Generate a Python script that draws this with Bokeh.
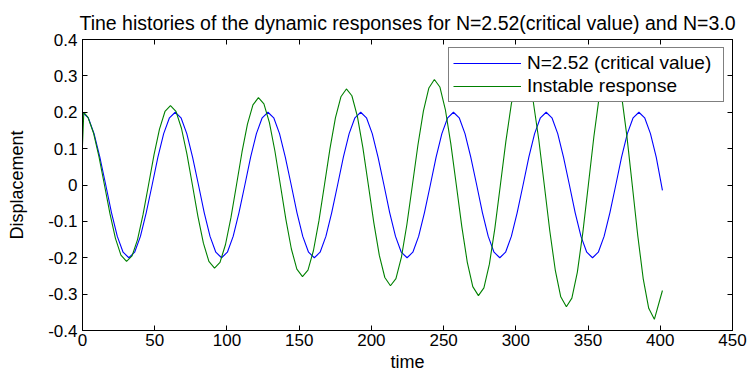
from bokeh.plotting import figure
from bokeh.models import LinearAxis, FixedTicker, Legend, LegendItem, Range1d
from bokeh.embed import file_html
from bokeh.resources import INLINE

# ---- data ----
blue_t = [0, 4.0, 8.0, 12.0, 16.1, 20.1, 24.1, 28.1, 32.1, 36.1, 40.1, 44.1, 48.2, 52.2, 56.2, 60.2,
          64.2, 68.2, 72.2, 76.2, 80.3, 84.3, 88.3, 92.3, 96.3, 100.3, 104.3, 108.3, 112.4, 116.4, 120.4, 124.4,
          128.4, 132.4, 136.4, 140.4, 144.5, 148.5, 152.5, 156.5, 160.5, 164.5, 168.5, 172.5, 176.6, 180.6, 184.6, 188.6,
          192.6, 196.6, 200.6, 204.6, 208.7, 212.7, 216.7, 220.7, 224.7, 228.7, 232.7, 236.7, 240.8, 244.8, 248.8, 252.8,
          256.8, 260.8, 264.8, 268.8, 272.9, 276.9, 280.9, 284.9, 288.9, 292.9, 296.9, 300.9, 305.0, 309.0, 313.0, 317.0,
          321.0, 325.0, 329.0, 333.0, 337.1, 341.1, 345.1, 349.1, 353.1, 357.1, 361.1, 365.1, 369.2, 373.2, 377.2, 381.2,
          385.2, 389.2, 393.2, 397.2, 401.5]
blue_y = [0.2, 0.1848, 0.1414, 0.0765, 0, -0.0765, -0.1414, -0.1848, -0.2, -0.1848, -0.1414, -0.0765, 0, 0.0765, 0.1414, 0.1848,
          0.2, 0.1848, 0.1414, 0.0765, 0, -0.0765, -0.1414, -0.1848, -0.2, -0.1848, -0.1414, -0.0765, 0, 0.0765, 0.1414, 0.1848,
          0.2, 0.1848, 0.1414, 0.0765, 0, -0.0765, -0.1414, -0.1848, -0.2, -0.1848, -0.1414, -0.0765, 0, 0.0765, 0.1414, 0.1848,
          0.2, 0.1848, 0.1414, 0.0765, 0, -0.0765, -0.1414, -0.1848, -0.2, -0.1848, -0.1414, -0.0765, 0, 0.0765, 0.1414, 0.1848,
          0.2, 0.1848, 0.1414, 0.0765, 0, -0.0765, -0.1414, -0.1848, -0.2, -0.1848, -0.1414, -0.0765, 0, 0.0765, 0.1414, 0.1848,
          0.2, 0.1848, 0.1414, 0.0765, 0, -0.0765, -0.1414, -0.1848, -0.2, -0.1848, -0.1414, -0.0765, 0, 0.0765, 0.1414, 0.1848,
          0.2, 0.1848, 0.1414, 0.0765, -0.015]

green_t = [0, 0.9, 3.8, 7.6, 11.4, 15.2, 19.0, 22.8, 26.6, 30.5, 34.3, 38.1, 41.9, 45.7, 49.5, 53.3, 57.1,
           60.9, 64.7, 68.5, 72.3, 76.1, 79.9, 83.7, 87.5, 91.4, 95.2, 99.0, 102.8, 106.6, 110.4, 114.2, 118.0,
           121.8, 125.6, 129.4, 133.2, 137.0, 140.8, 144.6, 148.4, 152.3, 156.1, 159.9, 163.7, 167.5, 171.3, 175.1, 178.9,
           182.7, 186.5, 190.3, 194.1, 197.9, 201.7, 205.5, 209.3, 213.2, 217.0, 220.8, 224.6, 228.4, 232.2, 236.0, 239.8,
           243.6, 247.4, 251.2, 255.0, 258.8, 262.6, 266.4, 270.2, 274.1, 277.9, 281.7, 285.5, 289.3, 293.1, 296.9, 300.7,
           304.5, 308.3, 312.1, 315.9, 319.7, 323.5, 327.3, 331.1, 335.0, 338.8, 342.6, 346.4, 350.2, 354.0, 357.8, 361.6,
           365.4, 369.2, 373.0, 376.8, 380.6, 384.4, 388.2, 392.0, 395.9, 401.5]
green_y = [0.11, 0.2, 0.1859, 0.1431, 0.0779, 0, -0.0789, -0.1466, -0.1926, -0.2098, -0.1950, -0.1501, -0.0817, 0, 0.0827, 0.1537, 0.2021,
           0.218, 0.2026, 0.1560, 0.0849, 0, -0.0860, -0.1598, -0.2100, -0.2286, -0.2125, -0.1636, -0.0891, 0, 0.0901, 0.1676, 0.2202,
           0.240, 0.2231, 0.1717, 0.0935, 0, -0.0946, -0.1759, -0.2312, -0.2517, -0.2339, -0.1801, -0.0981, 0, 0.0992, 0.1845, 0.2425,
           0.264, 0.2454, 0.1889, 0.1029, 0, -0.1041, -0.1935, -0.2543, -0.2769, -0.2573, -0.1981, -0.1079, 0, 0.1092, 0.2029, 0.2667,
           0.290, 0.2695, 0.2075, 0.1130, 0, -0.1143, -0.2125, -0.2793, -0.3042, -0.2827, -0.2176, -0.1185, 0, 0.1199, 0.2229, 0.2930,
           0.319, 0.2965, 0.2283, 0.1243, 0, -0.1258, -0.2338, -0.3073, -0.3346, -0.3110, -0.2394, -0.1304, 0, 0.1319, 0.2452, 0.3223,
           0.352, 0.3272, 0.2519, 0.1371, 0, -0.1388, -0.2580, -0.3391, -0.3692, -0.2900]

x_ticks = [0, 50, 100, 150, 200, 250, 300, 350, 400, 450]
y_ticks = [-0.4, -0.3, -0.2, -0.1, 0, 0.1, 0.2, 0.3, 0.4]
y_tick_labels = {-0.4: "-0.4", -0.3: "-0.3", -0.2: "-0.2", -0.1: "-0.1", 0: "0",
                 0.1: "0.1", 0.2: "0.2", 0.3: "0.3", 0.4: "0.4"}
labels = ["N=2.52 (critical value)", "Instable response"]
title = "Tine histories of the dynamic responses for N=2.52(critical value) and N=3.0"

FONT = "Liberation Sans"

p = figure(width=748, height=374, output_backend="svg", toolbar_location=None,
           x_range=Range1d(0, 450), y_range=Range1d(-0.4, 0.4),
           min_border_left=82, min_border_right=16, min_border_top=39, min_border_bottom=42,
           title=title, x_axis_label="time", y_axis_label="Displacement")
p.title.align = "center"
p.title.text_font = FONT
p.title.text_font_size = "19.5px"
p.title.text_font_style = "normal"
p.title.text_color = "black"
p.title.standoff = 12

p.xgrid.visible = False
p.ygrid.visible = False
p.outline_line_color = "black"
p.outline_line_alpha = 1
p.background_fill_color = "white"
p.border_fill_color = "white"

for ax in p.xaxis:
    ax.ticker = FixedTicker(ticks=x_ticks)
for ax in p.yaxis:
    ax.ticker = FixedTicker(ticks=y_ticks)
    ax.major_label_overrides = y_tick_labels

def style_axis(ax):
    ax.axis_line_color = "black"
    ax.major_tick_line_color = "black"
    ax.major_tick_in = 5
    ax.major_tick_out = 0
    ax.minor_tick_line_color = None
    ax.major_label_text_font = FONT
    ax.major_label_text_font_size = "17px"
    ax.major_label_text_color = "black"
    ax.axis_label_text_font = FONT
    ax.axis_label_text_font_size = "18px"
    ax.axis_label_text_font_style = "normal"
    ax.axis_label_text_color = "black"

for ax in p.xaxis:
    style_axis(ax)
    ax.major_label_standoff = 3
    ax.axis_label_standoff = 3
for ax in p.yaxis:
    style_axis(ax)
    ax.major_label_standoff = 5
    ax.axis_label_standoff = 18

top_ax = LinearAxis(ticker=FixedTicker(ticks=x_ticks))
right_ax = LinearAxis(ticker=FixedTicker(ticks=y_ticks))
for ax in (top_ax, right_ax):
    ax.axis_line_color = "black"
    ax.major_tick_line_color = "black"
    ax.major_tick_in = 5
    ax.major_tick_out = 0
    ax.minor_tick_line_color = None
    ax.major_label_text_font_size = "1px"
    ax.major_label_text_color = None
    ax.major_label_standoff = 0
p.add_layout(top_ax, "above")
p.add_layout(right_ax, "right")

r1 = p.line(blue_t, blue_y, line_color="#0000ff", line_width=1.1)
r2 = p.line(green_t, green_y, line_color="#008000", line_width=1.1)

legend = Legend(items=[LegendItem(label=labels[0], renderers=[r1]),
                       LegendItem(label=labels[1], renderers=[r2])],
                location="top_right")
legend.margin = 8
legend.padding = 4
legend.spacing = 1
legend.glyph_width = 68
legend.glyph_height = 20
legend.label_height = 20
legend.label_width = 192
legend.label_standoff = 6
legend.label_text_font = FONT
legend.label_text_font_size = "19px"
legend.label_text_color = "black"
legend.border_line_color = "black"
legend.border_line_width = 1
legend.background_fill_color = "white"
legend.background_fill_alpha = 1
p.add_layout(legend, "center")

open("out.html", "w").write(file_html(p, INLINE))
